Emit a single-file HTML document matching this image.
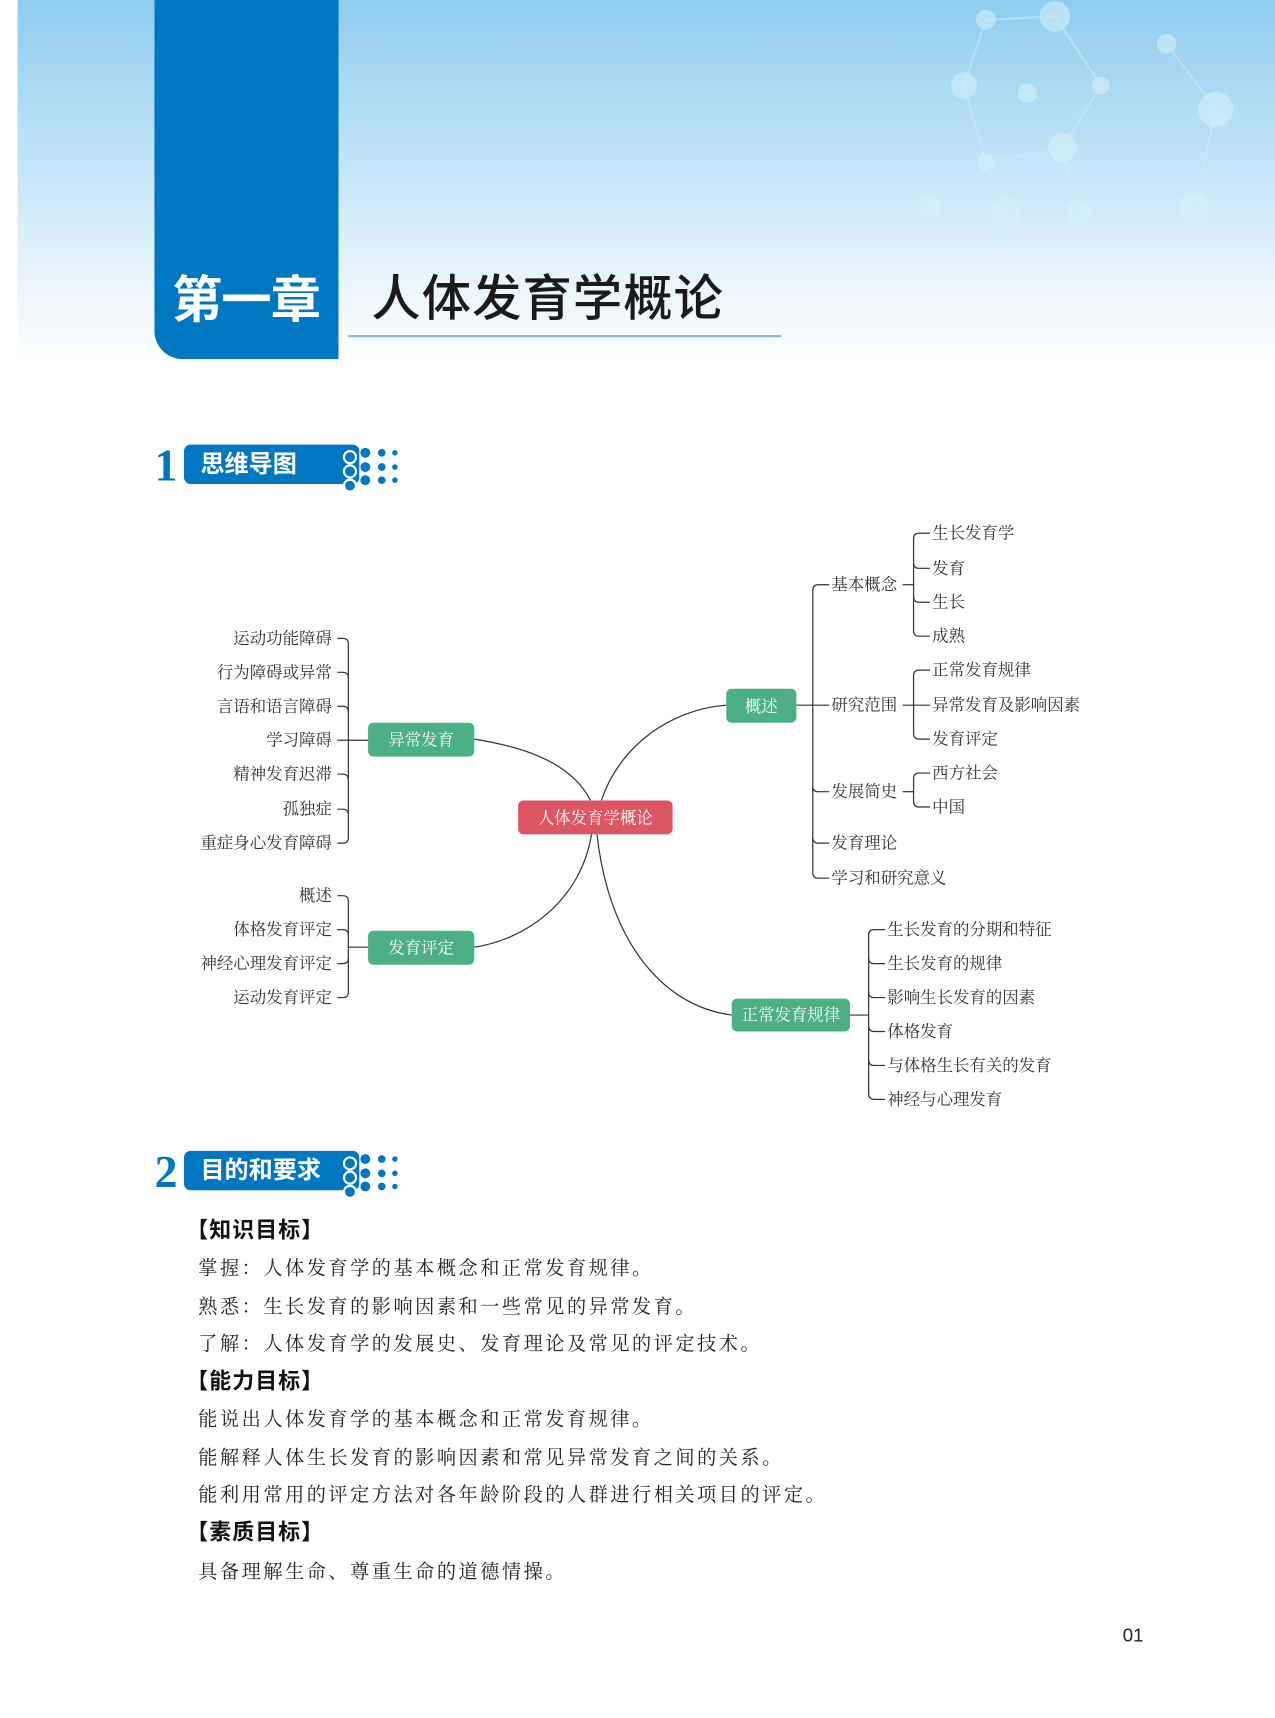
<!DOCTYPE html>
<html><head><meta charset="utf-8"><style>
html,body{margin:0;padding:0;background:#fff;}
body{width:1275px;height:1718px;overflow:hidden;position:relative;}
#p{position:absolute;left:0;top:0;width:1164px;height:1569px;transform:scale(1.0954,1.095);transform-origin:0 0;}
.a{position:absolute;white-space:nowrap;}
.hdr{position:absolute;left:16px;top:0;width:1148px;height:335px;background:linear-gradient(180deg,#8fcdef 0%,#b7dff5 35%,#dbeffa 65%,#f4fafd 88%,#ffffff 100%);}
.tab{position:absolute;left:141px;top:0;width:168px;height:328px;background:#0077c0;border-bottom-left-radius:26px;}
.t1{font-family:"Liberation Sans","Noto Sans CJK SC",sans-serif;font-weight:bold;color:#fff;font-size:46px;left:157px;top:238px;letter-spacing:-1px;}
.t2{font-family:"Liberation Sans","Noto Sans CJK SC",sans-serif;color:#1a1a1a;font-size:45px;left:339px;top:236px;font-weight:500;letter-spacing:1px;}
.ul{position:absolute;left:318px;top:306px;width:395px;height:2px;background:#8ab6cf;}
.num{font-family:"Liberation Serif",serif;font-weight:bold;color:#0077c0;font-size:42px;}
.lbl{position:absolute;background:#0077c0;border-radius:6px;color:#fff;font-family:"Liberation Sans","Noto Sans CJK SC",sans-serif;font-weight:bold;font-size:22px;line-height:36px;padding-left:15px;box-sizing:border-box;}
.dot{position:absolute;border-radius:50%;background:#0077c0;}
.mm{font-family:"Noto Serif CJK SC","Liberation Serif",serif;font-size:15px;color:#333;line-height:18px;}
.box{position:absolute;border-radius:5px;color:#fff;font-family:"Noto Serif CJK SC","Liberation Sans",sans-serif;font-size:15px;text-align:center;}
.g{background:#4cb084;}
.txt{font-family:"Noto Serif CJK SC","Liberation Serif",serif;font-size:17.5px;color:#222;letter-spacing:2.3px;left:181px;line-height:22px;}
.hd{font-family:"Liberation Sans","Noto Sans CJK SC",sans-serif;font-weight:bold;font-size:20px;color:#111;left:170px;line-height:24px;letter-spacing:1px;}
</style></head><body><div id="p">
<div class="hdr"></div>
<svg class="a" style="left:800px;top:0" width="364" height="300">
<g fill="#d6f4fb" opacity="0.55">
<circle cx="163" cy="15" r="14"/><circle cx="100" cy="18" r="9"/><circle cx="80" cy="78" r="12"/><circle cx="138" cy="85" r="9"/><circle cx="170" cy="135" r="13"/><circle cx="100" cy="148" r="8"/><circle cx="48" cy="190" r="10"/><circle cx="118" cy="195" r="14"/><circle cx="185" cy="195" r="12"/><circle cx="265" cy="40" r="9"/><circle cx="310" cy="100" r="16"/><circle cx="290" cy="190" r="14"/><circle cx="205" cy="78" r="8"/></g>
<g stroke="#c9eef8" stroke-width="2" fill="none" opacity="0.5"><path d="M100 18 L163 15 L205 78 L170 135 L100 148 L80 78 Z"/><path d="M100 148 L118 195 L185 195 L170 135"/><path d="M265 40 L310 100 L290 190"/></g>
</svg>
<div class="tab"></div>
<div class="a t1">第一章</div>
<div class="a t2">人体发育学概论</div>
<div class="ul"></div>

<div class="a num" style="left:141px;top:402px;">1</div>
<div class="lbl" style="left:168px;top:406px;width:160px;height:36px;">思维导图</div>
<div class="dot" style="left:313px;top:411px;width:9px;height:9px;border:2px solid #fff;"></div>
<div class="dot" style="left:313px;top:424px;width:9px;height:9px;border:2px solid #fff;"></div>
<div class="dot" style="left:313px;top:437px;width:9px;height:9px;border:2px solid #fff;"></div>
<div class="dot" style="left:329px;top:409px;width:9px;height:9px"></div><div class="dot" style="left:329px;top:422px;width:9px;height:9px"></div><div class="dot" style="left:329px;top:434px;width:9px;height:9px"></div>
<div class="dot" style="left:345px;top:410px;width:7px;height:7px"></div><div class="dot" style="left:345px;top:423px;width:7px;height:7px"></div><div class="dot" style="left:345px;top:435px;width:7px;height:7px"></div>
<div class="dot" style="left:358px;top:411px;width:5px;height:5px"></div><div class="dot" style="left:358px;top:424px;width:5px;height:5px"></div><div class="dot" style="left:358px;top:436px;width:5px;height:5px"></div>

<div class="a" style="left:0;top:3px;width:1164px;height:1100px;">
<svg class="a" style="left:0;top:0" width="1164" height="1100" fill="none" stroke="#333" stroke-width="1.1">
<path d="M539 728 C520 690 470 678 433 672"/>
<path d="M549 728 C565 680 610 645 663 641"/>
<path d="M540 759 C530 820 480 855 433 862"/>
<path d="M545 759 C555 850 600 915 668 924"/>
<path d="M318 585 V762 Q318 767 313 767 H308"/>
<path d="M308 580 H313 Q318 580 318 585"/>
<path d="M308 611 H313 Q318 611 318 616"/><path d="M308 642 H313 Q318 642 318 647"/>
<path d="M308 673 H336"/>
<path d="M308 704 H313 Q318 704 318 709"/><path d="M308 736 H313 Q318 736 318 741"/>
<path d="M308 815 H313 Q318 815 318 820 V903 Q318 908 313 908 H308"/>
<path d="M308 846 H313 Q318 846 318 851"/><path d="M308 877 H313 Q318 877 318 872"/>
<path d="M318 862 H336"/>
<path d="M727 641 H757"/>
<path d="M757 531 H747 Q742 531 742 536 V794 Q742 799 747 799 H757"/>
<path d="M742 715 Q742 720 747 720 H757"/><path d="M742 762 Q742 767 747 767 H757"/>
<path d="M824 531 H834"/>
<path d="M849 484 H839 Q834 484 834 489 V573 Q834 578 839 578 H849"/>
<path d="M834 511 Q834 516 839 516 H849"/><path d="M834 542 Q834 547 839 547 H849"/>
<path d="M824 641 H849"/>
<path d="M849 609 H839 Q834 609 834 614 V667 Q834 672 839 672 H849"/>
<path d="M824 720 H834"/>
<path d="M849 703 H839 Q834 703 834 708 V729 Q834 734 839 734 H849"/>
<path d="M776 924 H793"/>
<path d="M808 846 H798 Q793 846 793 851 V996 Q793 1001 798 1001 H808"/>
<path d="M793 872 Q793 877 798 877 H808"/><path d="M793 903 Q793 908 798 908 H808"/><path d="M793 934 Q793 939 798 939 H808"/><path d="M793 965 Q793 970 798 970 H808"/>
</svg>

<div class="a mm" style="right:861px;top:571px;">运动功能障碍</div>
<div class="a mm" style="right:861px;top:602px;">行为障碍或异常</div>
<div class="a mm" style="right:861px;top:633px;">言语和语言障碍</div>
<div class="a mm" style="right:861px;top:664px;">学习障碍</div>
<div class="a mm" style="right:861px;top:695px;">精神发育迟滞</div>
<div class="a mm" style="right:861px;top:727px;">孤独症</div>
<div class="a mm" style="right:861px;top:758px;">重症身心发育障碍</div>
<div class="a mm" style="right:861px;top:806px;">概述</div>
<div class="a mm" style="right:861px;top:837px;">体格发育评定</div>
<div class="a mm" style="right:861px;top:868px;">神经心理发育评定</div>
<div class="a mm" style="right:861px;top:899px;">运动发育评定</div>

<div class="box g" style="left:336px;top:657px;width:97px;height:31px;line-height:31px;">异常发育</div>
<div class="box g" style="left:336px;top:847px;width:97px;height:31px;line-height:31px;">发育评定</div>
<div class="box" style="left:473px;top:728px;width:141px;height:31px;line-height:31px;background:#dd5664;">人体发育学概论</div>
<div class="box g" style="left:663px;top:626px;width:64px;height:31px;line-height:31px;">概述</div>
<div class="box g" style="left:668px;top:909px;width:108px;height:30px;line-height:30px;">正常发育规律</div>

<div class="a mm" style="left:759px;top:522px;">基本概念</div>
<div class="a mm" style="left:759px;top:632px;">研究范围</div>
<div class="a mm" style="left:759px;top:711px;">发展简史</div>
<div class="a mm" style="left:759px;top:758px;">发育理论</div>
<div class="a mm" style="left:759px;top:790px;">学习和研究意义</div>
<div class="a mm" style="left:851px;top:475px;">生长发育学</div>
<div class="a mm" style="left:851px;top:507px;">发育</div>
<div class="a mm" style="left:851px;top:538px;">生长</div>
<div class="a mm" style="left:851px;top:569px;">成熟</div>
<div class="a mm" style="left:851px;top:600px;">正常发育规律</div>
<div class="a mm" style="left:851px;top:632px;">异常发育及影响因素</div>
<div class="a mm" style="left:851px;top:663px;">发育评定</div>
<div class="a mm" style="left:851px;top:694px;">西方社会</div>
<div class="a mm" style="left:851px;top:725px;">中国</div>
<div class="a mm" style="left:810px;top:837px;">生长发育的分期和特征</div>
<div class="a mm" style="left:810px;top:868px;">生长发育的规律</div>
<div class="a mm" style="left:810px;top:899px;">影响生长发育的因素</div>
<div class="a mm" style="left:810px;top:930px;">体格发育</div>
<div class="a mm" style="left:810px;top:961px;">与体格生长有关的发育</div>
<div class="a mm" style="left:810px;top:992px;">神经与心理发育</div>
</div>

<div class="a num" style="left:141px;top:1047px;">2</div>
<div class="lbl" style="left:168px;top:1051px;width:160px;height:36px;">目的和要求</div>
<div class="dot" style="left:313px;top:1056px;width:9px;height:9px;border:2px solid #fff;"></div>
<div class="dot" style="left:313px;top:1069px;width:9px;height:9px;border:2px solid #fff;"></div>
<div class="dot" style="left:313px;top:1082px;width:9px;height:9px;border:2px solid #fff;"></div>
<div class="dot" style="left:329px;top:1054px;width:9px;height:9px"></div><div class="dot" style="left:329px;top:1067px;width:9px;height:9px"></div><div class="dot" style="left:329px;top:1079px;width:9px;height:9px"></div>
<div class="dot" style="left:345px;top:1055px;width:7px;height:7px"></div><div class="dot" style="left:345px;top:1068px;width:7px;height:7px"></div><div class="dot" style="left:345px;top:1080px;width:7px;height:7px"></div>
<div class="dot" style="left:358px;top:1056px;width:5px;height:5px"></div><div class="dot" style="left:358px;top:1069px;width:5px;height:5px"></div><div class="dot" style="left:358px;top:1081px;width:5px;height:5px"></div>

<div class="a hd" style="top:1112px;">【知识目标】</div>
<div class="a txt" style="top:1147px;">掌握：人体发育学的基本概念和正常发育规律。</div>
<div class="a txt" style="top:1182px;">熟悉：生长发育的影响因素和一些常见的异常发育。</div>
<div class="a txt" style="top:1216px;">了解：人体发育学的发展史、发育理论及常见的评定技术。</div>
<div class="a hd" style="top:1250px;">【能力目标】</div>
<div class="a txt" style="top:1285px;">能说出人体发育学的基本概念和正常发育规律。</div>
<div class="a txt" style="top:1320px;">能解释人体生长发育的影响因素和常见异常发育之间的关系。</div>
<div class="a txt" style="top:1354px;">能利用常用的评定方法对各年龄阶段的人群进行相关项目的评定。</div>
<div class="a hd" style="top:1388px;">【素质目标】</div>
<div class="a txt" style="top:1424px;">具备理解生命、尊重生命的道德情操。</div>

<div class="a" style="left:1025px;top:1484px;font-family:'Liberation Sans',sans-serif;font-size:17px;color:#222;">01</div>
</div></body></html>
